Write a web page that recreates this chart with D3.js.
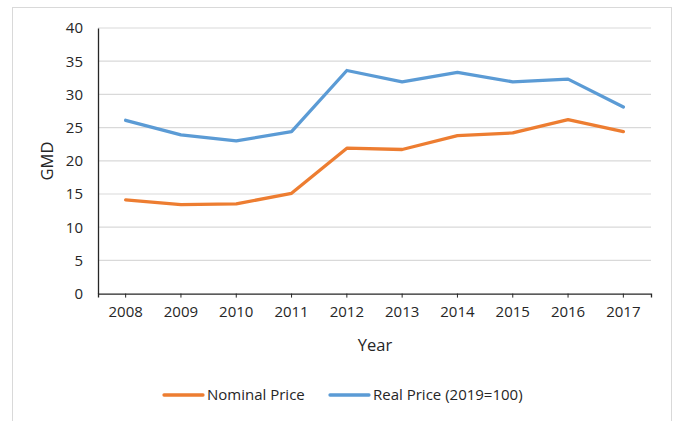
<!DOCTYPE html>
<html>
<head>
<meta charset="utf-8">
<script src="https://cdn.jsdelivr.net/npm/d3@7"></script>
<style>
  body { margin: 0; background: #fff; }
  text { font-family: "Open Sans", sans-serif; fill: #262626; }
</style>
</head>
<body>
<div id="chart"></div>
<script>
const years = ["2008","2009","2010","2011","2012","2013","2014","2015","2016","2017"];
const nominal = [14.1, 13.4, 13.5, 15.1, 21.9, 21.7, 23.8, 24.2, 26.2, 24.4];
const real = [26.1, 23.9, 23.0, 24.4, 33.6, 31.9, 33.3, 31.9, 32.3, 28.1];
const yTicks = [0, 5, 10, 15, 20, 25, 30, 35, 40];

const width = 673, height = 421;
const m = {left: 98, right: 651, top: 28, bottom: 293.6};
const font = "'Open Sans', sans-serif";

const svg = d3.select("#chart").append("svg")
  .attr("width", width).attr("height", height);

// ramen runt diagrammet
svg.append("rect")
  .attr("x", 12.5).attr("y", 7.5).attr("width", 659).attr("height", 430)
  .attr("fill", "none").attr("stroke", "#d9d9d9");

const x = d3.scaleBand().domain(years).range([m.left, m.right]);
const y = d3.scaleLinear().domain([0, 40]).range([m.bottom, m.top]);

// rutnät
svg.append("g").selectAll("line")
  .data(yTicks.filter(d => d > 0))
  .enter().append("line")
    .attr("x1", m.left).attr("x2", m.right)
    .attr("y1", d => y(d)).attr("y2", d => y(d))
    .attr("stroke", "#d9d9d9").attr("stroke-width", 1.2);

// y-axel
const yAxis = svg.append("g")
  .attr("transform", `translate(${m.left},0)`)
  .call(d3.axisLeft(y).tickValues(yTicks).tickSize(0).tickPadding(15));
yAxis.select(".domain").attr("stroke", "#262626").attr("stroke-width", 1.3);
yAxis.selectAll("text").attr("font-size", 15).style("font-family", font).attr("fill", "#262626");

// x-axel
const xAxis = svg.append("g")
  .attr("transform", `translate(0,${m.bottom})`)
  .call(d3.axisBottom(x).tickSize(4).tickSizeOuter(4).tickPadding(9));
xAxis.select(".domain").attr("stroke", "#262626").attr("stroke-width", 1.3);
xAxis.selectAll(".tick line").attr("stroke", "#262626");
xAxis.selectAll("text").attr("font-size", 15).style("font-family", font).attr("fill", "#262626");

// axeltitlar
svg.append("text")
  .attr("transform", "translate(53,161) rotate(-90)")
  .attr("text-anchor", "middle").attr("font-size", 16.5)
  .text("GMD");
svg.append("text")
  .attr("x", 375).attr("y", 351)
  .attr("text-anchor", "middle").attr("font-size", 16.5)
  .text("Year");

const line = d3.line()
  .x((d, i) => x(years[i]) + x.bandwidth() / 2)
  .y(d => y(d));

const series = [
  {name: "Nominal Price", values: nominal, color: "#ED7D31"},
  {name: "Real Price (2019=100)", values: real, color: "#5B9BD5"}
];

svg.append("g").selectAll("path")
  .data(series)
  .enter().append("path")
    .attr("d", d => line(d.values))
    .attr("fill", "none")
    .attr("stroke", d => d.color)
    .attr("stroke-width", 3.3)
    .attr("stroke-linejoin", "round")
    .attr("stroke-linecap", "round");

// legend
const legendX = [164, 330];
const leg = svg.append("g").selectAll("g")
  .data(series)
  .enter().append("g")
    .attr("transform", (d, i) => `translate(${legendX[i]},395)`);
leg.append("line")
  .attr("x1", 0).attr("x2", 39)
  .attr("stroke", d => d.color).attr("stroke-width", 3.3)
  .attr("stroke-linecap", "round");
leg.append("text")
  .attr("x", 43).attr("dy", "0.35em").attr("font-size", 15)
  .text(d => d.name);
</script>
</body>
</html>
